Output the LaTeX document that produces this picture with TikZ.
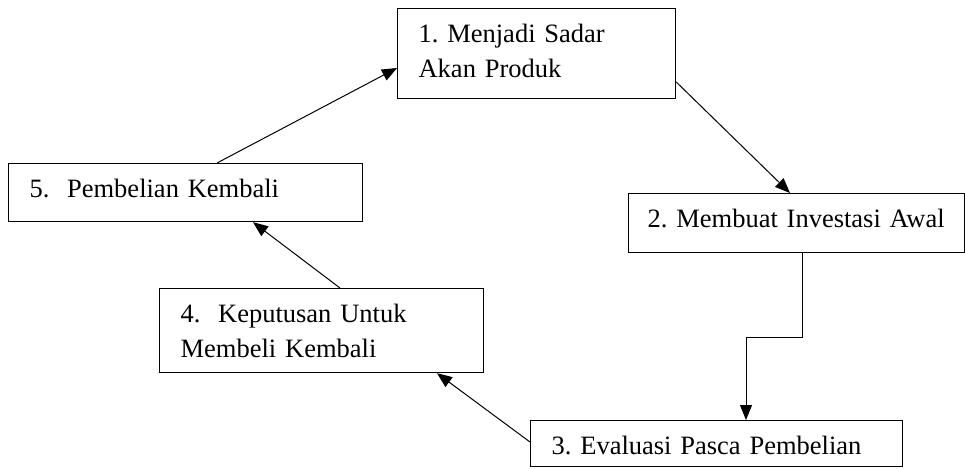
\documentclass[tikz,border=0pt]{standalone}
\usepackage{fontspec}
\setmainfont{Liberation Serif}
\usetikzlibrary{arrows.meta,calc}

\tikzset{
  stage/.style={draw, line width=1.2pt, anchor=north west, inner xsep=21pt, inner ysep=0pt,
    align=left, text height=34pt, font=\fontsize{26.5}{34.5}\selectfont\frenchspacing},
  flow/.style={line width=1pt, -{Triangle[length=15pt,width=12pt]}}
}

\begin{document}
\begin{tikzpicture}[x=1pt,y=1pt,yscale=-1,xscale=1]
                    \useasboundingbox (0,0) rectangle (965,468);
                    %Shape: Rectangle [sadar]
                    \draw (397,8) node (sadar) [stage, text width=236pt, text depth=56pt] {1. Menjadi Sadar\\Akan Produk};
                    %Shape: Rectangle [investasi]
                    \draw (628,193) node (investasi) [stage, inner xsep=19pt, text width=298pt, text depth=25pt] {2. Membuat Investasi Awal};
                    %Shape: Rectangle [evaluasi]
                    \draw (530,420) node (evaluasi) [stage, text width=330pt, text depth=12pt] {3. Evaluasi Pasca Pembelian};
                    %Shape: Rectangle [keputusan]
                    \draw (159,288) node (keputusan) [stage, text width=282pt, text depth=50pt] {4.\ \ Keputusan Untuk\\Membeli Kembali};
                    %Shape: Rectangle [pembelian]
                    \draw (8,163) node (pembelian) [stage, text width=312pt, text depth=24pt] {5.\ \ Pembelian Kembali};

                    %Straight Lines [pembelian -> sadar]
                    \draw [flow] ($(pembelian.north west)+(209,0)$) -- ($(sadar.north west)+(0,60)$);
                    %Straight Lines [sadar -> investasi]
                    \draw [flow] ($(sadar.north east)+(0,74)$) -- ($(investasi.north west)+(162,0)$);
                    %Elbow Line [investasi -> evaluasi]
                    \draw [flow] ($(investasi.south west)+(174,0)$) -- ++(0,84) -| ($(evaluasi.north west)+(216,0)$);
                    %Straight Lines [evaluasi -> keputusan]
                    \draw [flow] ($(evaluasi.north west)+(0,22)$) -- ($(keputusan.south west)+(278,0)$);
                    %Straight Lines [keputusan -> pembelian]
                    \draw [flow] ($(keputusan.north west)+(181,0)$) -- ($(pembelian.south west)+(245,0)$);
                \end{tikzpicture}
\end{document}
